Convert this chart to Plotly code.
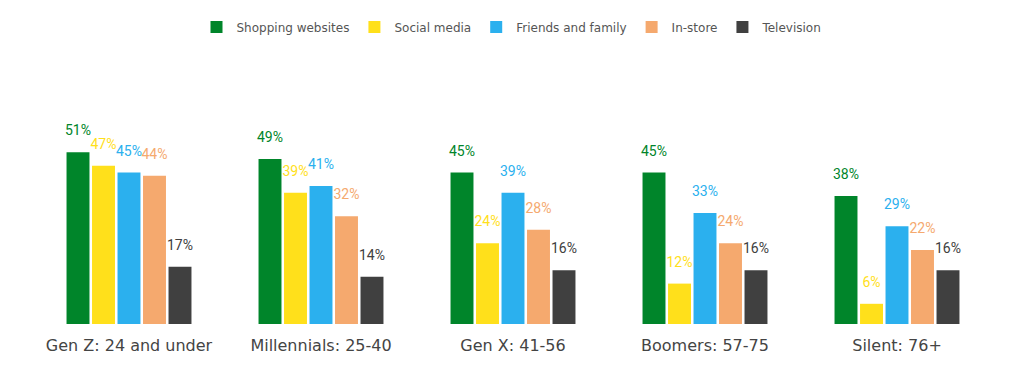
import plotly.graph_objects as go

categories = ["Gen Z: 24 and under", "Millennials: 25-40", "Gen X: 41-56", "Boomers: 57-75", "Silent: 76+"]
series_names = ["Shopping websites", "Social media", "Friends and family", "In-store", "Television"]
shopping = [51, 49, 45, 45, 38]
social = [47, 39, 24, 12, 6]
friends = [45, 41, 39, 33, 29]
instore = [44, 32, 28, 24, 22]
television = [17, 14, 16, 16, 16]
colors = ["#00852A", "#FFE01B", "#2BB0EE", "#F5A96E", "#404040"]

values = [shopping, social, friends, instore, television]

GAP = 0.336

fig = go.Figure()
for i, (name, vals, col) in enumerate(zip(series_names, values, colors)):
    fig.add_trace(go.Bar(
        name=name, x=categories, y=vals,
        marker=dict(color=col, line=dict(width=0)),
        offsetgroup=str(i), alignmentgroup="a",
        hoverinfo="skip",
    ))
for i, (name, vals, col) in enumerate(zip(series_names, values, colors)):
    fig.add_trace(go.Scatter(
        x=categories, y=vals, mode="markers+text",
        text=[f"{v}%" for v in vals], textposition="top center",
        textfont=dict(family="Roboto", size=14, color=col),
        marker=dict(size=20, opacity=0),
        offsetgroup=str(i), alignmentgroup="a",
        showlegend=False, hoverinfo="skip", cliponaxis=False,
    ))

fig.update_layout(
    width=1024, height=374,
    barmode="group", bargap=GAP, bargroupgap=0.1,
    scattermode="group", scattergap=GAP,
    paper_bgcolor="white", plot_bgcolor="white",
    margin=dict(l=33, r=31, t=122, b=50),
    showlegend=True,
    legend=dict(orientation="h", x=0.5, xanchor="center", xref="container",
                y=1 - 27 / 374, yanchor="middle", yref="container",
                font=dict(family="DejaVu Sans", size=12, color="#555555"),
                itemclick=False),
    xaxis=dict(showgrid=False, showline=False, ticks="", zeroline=False,
               tickfont=dict(family="DejaVu Sans", size=16, color="#444444"),
               ticklabelstandoff=10),
    yaxis=dict(range=[0, 60], visible=False, showgrid=False, zeroline=False),
)

fig.write_html("out.html", config={"displayModeBar": False},
               post_script="document.body.style.margin='0';document.body.style.padding='0';")
